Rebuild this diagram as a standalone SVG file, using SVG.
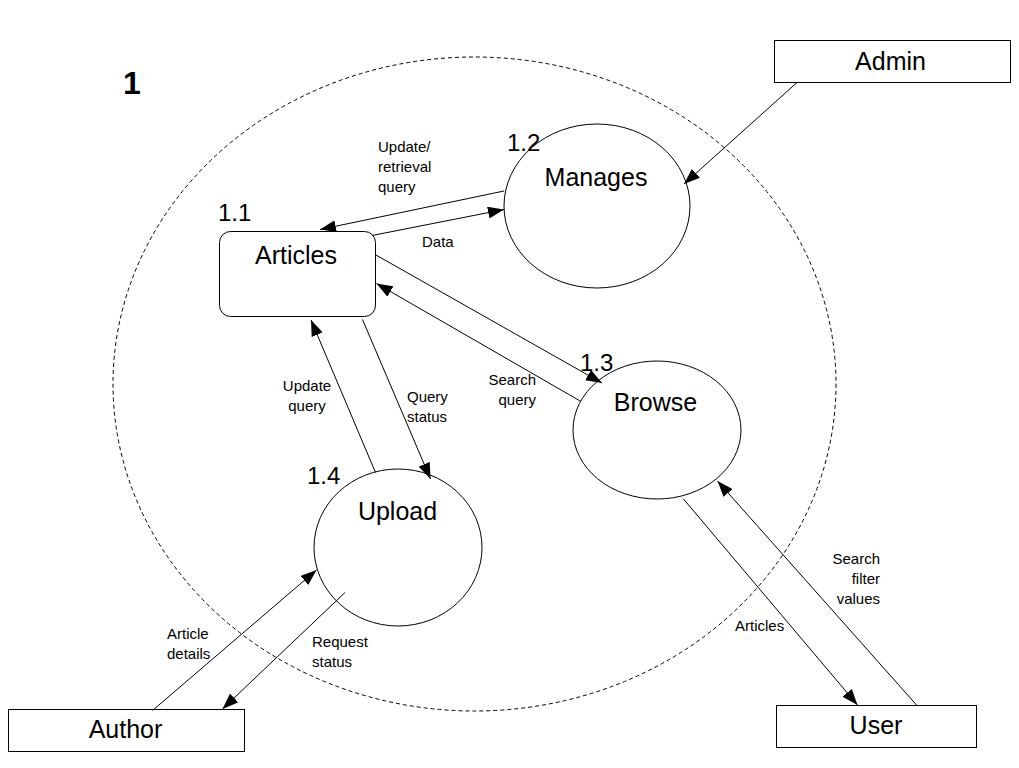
<svg xmlns="http://www.w3.org/2000/svg" width="1019" height="768" viewBox="0 0 1019 768">
<defs>
<marker id="arr" markerUnits="userSpaceOnUse" markerWidth="16" markerHeight="12" refX="16" refY="6" orient="auto">
<path d="M0,0 L16,6 L0,12 z" fill="#000"/>
</marker>
<style>
.shape{fill:#fff;stroke:#000;stroke-width:1}
.conn{stroke:#000;stroke-width:1;fill:none;marker-end:url(#arr)}
.lbl{font-family:"Liberation Sans",Arial,sans-serif;font-size:15px;fill:#000}
.name{font-family:"Liberation Sans",Arial,sans-serif;font-size:25px;fill:#000;text-anchor:middle}
.num{font-family:"Liberation Sans",Arial,sans-serif;font-size:24px;fill:#000}
</style>
</defs>
<rect width="1019" height="768" fill="#fff"/>
<g id="boundary">
<ellipse cx="474.5" cy="384" rx="361.5" ry="327" fill="none" stroke="#000" stroke-width="1" stroke-dasharray="4,3"/>
<text x="123" y="94" style="font-family:'Liberation Sans',Arial,sans-serif;font-size:32px;font-weight:bold">1</text>
</g>
<g id="admin">
<rect class="shape" x="774.5" y="40.5" width="236" height="42"/>
<text class="name" x="890.5" y="70">Admin</text>
</g>
<g id="author">
<rect class="shape" x="8.5" y="709.5" width="236" height="42"/>
<text class="name" x="125.5" y="738">Author</text>
</g>
<g id="user">
<rect class="shape" x="776.5" y="705.5" width="200" height="42"/>
<text class="name" x="876" y="734">User</text>
</g>
<g id="articles">
<rect class="shape" x="219.5" y="231.5" width="156" height="85" rx="11" ry="11"/>
<text class="name" x="296" y="264">Articles</text>
<text class="num" x="218" y="221">1.1</text>
</g>
<g id="manages">
<ellipse class="shape" cx="597" cy="206" rx="93" ry="82"/>
<text class="name" x="596" y="186">Manages</text>
<text class="num" x="507" y="151">1.2</text>
</g>
<g id="browse">
<ellipse class="shape" cx="657" cy="430" rx="84" ry="69"/>
<text class="name" x="655.5" y="410.5">Browse</text>
<text class="num" x="580" y="371">1.3</text>
</g>
<g id="upload">
<ellipse class="shape" cx="398" cy="547.5" rx="84" ry="78.5"/>
<text class="name" x="397.5" y="520">Upload</text>
<text class="num" x="307" y="484">1.4</text>
</g>
<g id="connectors">
<line class="conn" x1="797" y1="82.5" x2="684" y2="184"/>
<line class="conn" x1="504" y1="191" x2="320" y2="229.5"/>
<line class="conn" x1="372" y1="235.5" x2="504" y2="209.5"/>
<line class="conn" x1="376" y1="255" x2="602" y2="383"/>
<line class="conn" x1="581" y1="401.5" x2="376.5" y2="283.5"/>
<line class="conn" x1="375.5" y1="472.5" x2="311" y2="320"/>
<line class="conn" x1="362.5" y1="319.5" x2="430.5" y2="479"/>
<line class="conn" x1="152.5" y1="710.5" x2="316.5" y2="570"/>
<line class="conn" x1="345" y1="592.5" x2="222.5" y2="709"/>
<line class="conn" x1="683.5" y1="499" x2="857.5" y2="705"/>
<line class="conn" x1="916.5" y1="705" x2="717.5" y2="481"/>
</g>
<g id="labels">
<text class="lbl" x="378" y="152">Update/</text>
<text class="lbl" x="378" y="172">retrieval</text>
<text class="lbl" x="378" y="192">query</text>
<text class="lbl" x="422" y="247">Data</text>
<text class="lbl" x="307" y="391" text-anchor="middle">Update</text>
<text class="lbl" x="307" y="411" text-anchor="middle">query</text>
<text class="lbl" x="407" y="401.5">Query</text>
<text class="lbl" x="407" y="421.5">status</text>
<text class="lbl" x="536" y="385" text-anchor="end">Search</text>
<text class="lbl" x="536" y="405" text-anchor="end">query</text>
<text class="lbl" x="167" y="639">Article</text>
<text class="lbl" x="167" y="659">details</text>
<text class="lbl" x="312" y="647">Request</text>
<text class="lbl" x="312" y="667">status</text>
<text class="lbl" x="735" y="631">Articles</text>
<text class="lbl" x="880" y="564" text-anchor="end">Search</text>
<text class="lbl" x="880" y="584" text-anchor="end">filter</text>
<text class="lbl" x="880" y="604" text-anchor="end">values</text>
</g>
</svg>
